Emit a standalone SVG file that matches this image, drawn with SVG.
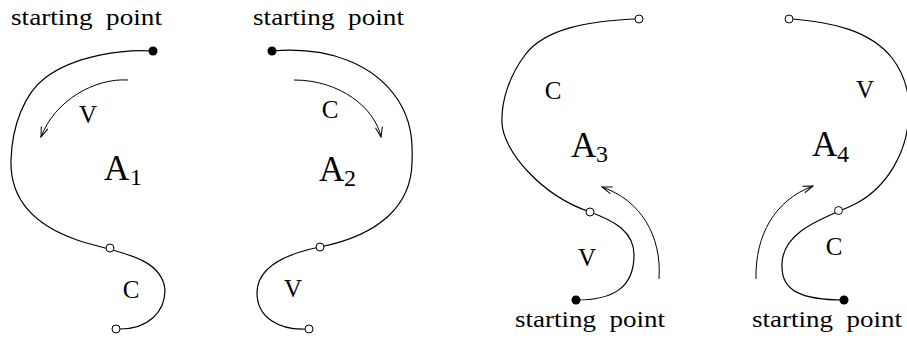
<svg xmlns="http://www.w3.org/2000/svg" width="907" height="343" viewBox="0 0 907 343">
<defs>
<style>
.curve{fill:none;stroke:#000;stroke-width:1.2}
.arr{fill:none;stroke:#000;stroke-width:1;marker-end:url(#head)}
.open{fill:#fff;stroke:#000;stroke-width:1}
.dot{fill:#000;stroke:none}
text{font-family:"Liberation Serif","Times New Roman",serif;fill:#000}
.sp{font-size:24px}
.lb{font-size:25px;text-anchor:middle}
.A{font-size:35px}
.sub{font-size:24px}
</style>
<marker id="head" markerWidth="12" markerHeight="10" viewBox="-11 -5 12 10" refX="0" refY="0" orient="auto" markerUnits="userSpaceOnUse">
<path d="M-10,-3.5 L0,0 L-10,3.5" fill="none" stroke="#000" stroke-width="1"/>
</marker>
</defs>
<rect width="907" height="343" fill="#fff"/>

<g id="panel-A1">
<path class="curve" d="M153,51 C125,49 75,55 45,78 C25,93 12,125 11,160 C10,192 25,222 77,240 C112,252 162,255 165,290 C165,312 148,329 120,329"/>
<circle class="dot" cx="153" cy="51" r="4.5"/>
<circle class="open" cx="110" cy="248" r="4"/>
<circle class="open" cx="116" cy="329" r="4"/>
<text class="sp" x="11" y="25" textLength="151" lengthAdjust="spacingAndGlyphs">starting&#160; point</text>
<text class="lb" x="88" y="123">V</text>
<text class="lb" x="131" y="298">C</text>
<text x="104" y="180"><tspan class="A">A</tspan><tspan class="sub" x="130" y="185">1</tspan></text>
</g>

<g id="panel-A2">
<path class="curve" d="M272,51 C330,46 375,65 398,100 C411,120 413,140 412,163 C411,205 380,235 320,247 C290,253 257,265 257,293 C257,318 280,330 305,329"/>
<circle class="dot" cx="272" cy="51" r="4.5"/>
<circle class="open" cx="320" cy="247" r="4"/>
<circle class="open" cx="309" cy="329" r="4"/>
<text class="sp" x="253" y="25" textLength="151" lengthAdjust="spacingAndGlyphs">starting&#160; point</text>
<text class="lb" x="330" y="118">C</text>
<text class="lb" x="293" y="297">V</text>
<text x="319" y="181"><tspan class="A">A</tspan><tspan class="sub" x="344" y="186">2</tspan></text>
</g>

<g id="panel-A3">
<path class="curve" d="M635,19 C590,21 545,28 525,55 C510,75 501,100 502,123 C503,150 540,195 590,212 C615,221 634,232 634,255 C634,290 610,300 576,300"/>
<circle class="open" cx="639" cy="19" r="4"/>
<circle class="open" cx="590" cy="212" r="4"/>
<circle class="dot" cx="576" cy="300" r="4.5"/>
<text class="sp" x="515" y="327" textLength="150" lengthAdjust="spacingAndGlyphs">starting&#160; point</text>
<text class="lb" x="553" y="99">C</text>
<text class="lb" x="587" y="266">V</text>
<text x="571" y="157"><tspan class="A">A</tspan><tspan class="sub" x="596" y="162">3</tspan></text>
</g>

<g id="panel-A4">
<path class="curve" d="M793,19 C830,22 870,30 892,58 C906,76 912,100 908,125 C905,150 890,185 857,203 C833,216 780,228 782,267 C782,290 800,300 844,300"/>
<circle class="open" cx="789" cy="19" r="4"/>
<circle class="open" cx="838.5" cy="210.5" r="4"/>
<circle class="dot" cx="844" cy="300" r="4.5"/>
<text class="sp" x="752" y="327" textLength="150" lengthAdjust="spacingAndGlyphs">starting&#160; point</text>
<text class="lb" x="865" y="98">V</text>
<text class="lb" x="834" y="255">C</text>
<text x="812" y="156"><tspan class="A">A</tspan><tspan class="sub" x="837" y="162">4</tspan></text>
</g>

<g id="connectors">
<path class="arr" d="M128,80 C95,78 55,100 41,137"/>
<path class="arr" d="M294,80 C340,80 375,108 381,137"/>
<path class="arr" d="M659,279 C662,235 640,200 602,187"/>
<path class="arr" d="M756,279 C755,235 775,200 813,186"/>
</g>
</svg>
